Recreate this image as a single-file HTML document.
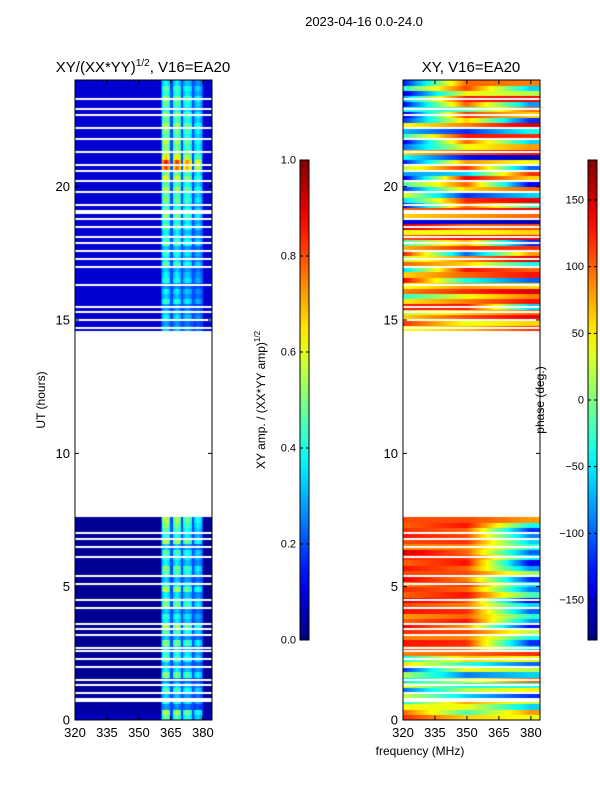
<!DOCTYPE html>
<html><head><meta charset="utf-8"><style>
body{margin:0;background:#fff;width:600px;height:800px;position:relative;overflow:hidden;font-family:"Liberation Sans",sans-serif}
canvas,svg{position:absolute;left:0;top:0}
</style></head><body>
<canvas id="cv" width="600" height="800"></canvas>
<svg id="sv" width="600" height="800"></svg>
<script>
// ---- data ----
const nRows = 120; // 0.2 h per row
const freqStart = 320, freqEnd = 384, freqStep = 0.5;
const blankStart = 38, blankEnd = 72; // rows with no data (7.6 - 14.6 h)
const whiteLines = [23.3,22.9,22.7,22.2,21.8,21.3,20.8,20.6,20.2,19.8,19.3,19.1,19.0,18.8,18.5,18.1,17.9,17.6,17.3,17.0,16.3,15.5,15.3,15.0,14.7,7.0,6.8,6.5,6.1,5.4,5.1,4.5,4.2,3.6,3.4,3.2,2.7,2.6,2.3,2.0,1.5,1.3,1.0,0.8,0.7];
const ampRows = [0.5,0.6,0.3,0.45,0.35,0.5,0.4,0.3,0.55,0.4,0.35,0.5,0.45,0.4,0.55,0.35,0.5,0.6,0.4,0.45,0.35,0.55,0.5,0.4,0.6,0.45,0.35,0.5,0.55,0.4,0.45,0.5,0.35,0.6,0.45,0.5,0.55,0.6,
0,0,0,0,0,0,0,0,0,0,0,0,0,0,0,0,0,0,0,0,0,0,0,0,0,0,0,0,0,0,0,0,0,0,0,
0.35,0.3,0.4,0.35,0.3,0.45,0.35,0.4,0.3,0.45,0.4,0.35,0.5,0.4,0.45,0.35,0.5,0.45,0.4,0.5,0.45,0.55,0.5,0.45,0.55,0.5,0.6,0.5,0.65,0.55,0.85,0.9,0.7,0.6,0.55,0.6,0.5,0.55,0.6,0.5,0.55,0.45,0.5,0.55,0.45,0.5,0.4,0.45];
const bgRows = [0.06,0.04,0.04,0.03,0.03,0.02,0.02,0.02,0.02,0.02,0.02,0.02,0.02,0.02,0.02,0.02,0.02,0.02,0.02,0.02,0.02,0.02,0.02,0.02,0.02,0.02,0.02,0.02,0.02,0.02,0.02,0.02,0.02,0.02,0.02,0.02,0.02,0.02];
const bandCenters = [363, 368, 373, 378];
const bandWeights = [1.0, 0.95, 0.85, 0.7];
const bgAmpUpper = 0.08;
const phase320 = [120,100,40,-40,30,-100,40,-60,20,-120,60,-40,90,
110,130,90,120,140,100,80,130,110,150,100,120,90,140,110,130,100,120,150,90,110,130,120,100,110,
null,null,null,null,null,null,null,null,null,null,null,null,null,null,null,null,null,null,null,null,null,null,null,null,null,null,null,null,null,null,null,null,null,null,null,
40,120,60,20,130,50,-30,90,40,140,60,-60,100,20,130,70,-20,110,40,150,-140,60,100,
-140,-60,40,-120,-20,-150,-80,20,-130,-40,60,-100,-150,-30,-70,40,-120,-160,-40,-140,-80,-150,-30,-130];
const phase350 = [60,-20,40,80,-60,20,-40,30,-90,40,-30,60,100,
100,120,90,110,80,130,100,120,90,110,130,100,120,90,110,100,130,120,100,90,120,110,100,130,110,
null,null,null,null,null,null,null,null,null,null,null,null,null,null,null,null,null,null,null,null,null,null,null,null,null,null,null,null,null,null,null,null,null,null,null,
70,40,110,60,130,90,40,120,80,-40,100,130,60,90,-100,120,70,140,40,100,-150,80,120,
100,120,-120,60,100,140,-60,120,80,-130,110,40,100,130,-120,90,60,120,-20,100,130,40,110,100];
const phase380 = [40,80,-60,30,-120,50,-40,100,-60,20,-100,40,120,
-60,-120,-40,20,-140,-80,-30,-100,-60,-150,-20,-90,-60,-120,10,-80,-140,-50,-100,-30,-60,-90,-120,-40,80,
null,null,null,null,null,null,null,null,null,null,null,null,null,null,null,null,null,null,null,null,null,null,null,null,null,null,null,null,null,null,null,null,null,null,null,
120,60,140,100,-60,130,90,150,60,-100,130,100,-40,150,80,120,-120,140,60,110,-160,100,140,
-20,140,-60,100,-140,60,120,-100,40,-160,130,80,-60,120,-40,150,-120,60,100,-80,140,20,-60,90];
const yTicks = [0,5,10,15,20];
const xTicks = [320,335,350,365,380];
const ampTicks = [0.0,0.2,0.4,0.6,0.8,1.0];
const phaseTicks = [-150,-100,-50,0,50,100,150];

// ---- geometry ----
const P1 = {x0:75,x1:212}, P2 = {x0:403,x1:540};
const yTop = 80, yBot = 720;
const fx = (p,f) => p.x0 + (f - 320) / (384.3 - 320) * (p.x1 - p.x0);
const fy = h => yBot - h / 24 * (yBot - yTop);
function jet(t){t=Math.max(0,Math.min(1,t));const c=v=>Math.round(255*Math.max(0,Math.min(1,v)));
 return `rgb(${c(1.5-Math.abs(4*t-3))},${c(1.5-Math.abs(4*t-2))},${c(1.5-Math.abs(4*t-1))})`;}
const ctx = document.getElementById('cv').getContext('2d');
function ampAt(r,f){
 let v = r < bgRows.length ? bgRows[r] : bgAmpUpper;
 bandCenters.forEach((c,i)=>{ if (Math.abs(f-c) < 2.1) v = Math.max(v, ampRows[r]*bandWeights[i]*(1-0.25*Math.abs(f-c)/2.1)); else if (Math.abs(f-c)<2.6) v=Math.max(v,0.2);});
 return v;
}
function phaseAt(r,f){
 const a=phase320[r], b=phase350[r], c=phase380[r];
 if (a===null) return null;
 if (f<=350) return a+(b-a)*(f-320)/30;
 if (f<=380) return b+(c-b)*(f-350)/30;
 return c;
}
for (let r=0;r<nRows;r++){
 if (r>=blankStart && r<=blankEnd) continue;
 const yA = Math.floor(fy((r+1)*0.2)), yB = Math.ceil(fy(r*0.2));
 for (let f=freqStart; f<freqEnd; f+=freqStep){
  const a = ampAt(r,f+freqStep/2);
  ctx.fillStyle = jet(a);
  const xa=Math.floor(fx(P1,f)), xb=Math.ceil(fx(P1,f+freqStep));
  ctx.fillRect(xa,yA,Math.min(xb,P1.x1)-xa,yB-yA);
  const p = phaseAt(r,f+freqStep/2);
  ctx.fillStyle = jet((p+180)/360);
  const xc=Math.floor(fx(P2,f)), xd=Math.ceil(fx(P2,f+freqStep));
  ctx.fillRect(xc,yA,Math.min(xd,P2.x1)-xc,yB-yA);
 }
}
ctx.fillStyle='#fff';
whiteLines.forEach(h=>{const y=Math.round(fy(h));ctx.fillRect(P1.x0,y-1,P1.x1-P1.x0,2);ctx.fillRect(P2.x0,y-1,P2.x1-P2.x0,2);});
// colorbars
[ [300,309], [588,597] ].forEach(([x0,x1])=>{
 const g=ctx.createLinearGradient(0,640,0,160);
 for(let i=0;i<=20;i++) g.addColorStop(i/20,jet(i/20));
 ctx.fillStyle=g; ctx.fillRect(x0,160,x1-x0,480);
});

// ---- svg overlay ----
const sv=document.getElementById('sv'); const NS='http://www.w3.org/2000/svg';
function el(tag,attrs,txt){const e=document.createElementNS(NS,tag);for(const k in attrs)e.setAttribute(k,attrs[k]);if(txt!==undefined)e.textContent=txt;sv.appendChild(e);return e;}
[P1,P2].forEach((p,pi)=>{
 const fr=el('rect',{x:p.x0,y:yTop,width:p.x1-p.x0,height:yBot-yTop,fill:'none',stroke:'#000','stroke-width':1});
 
 
 yTicks.forEach(v=>{const y=fy(v);
  const t=el('path',{d:`M${p.x0},${y}h4M${p.x1},${y}h-4`,stroke:'#000'});
  
  
  const l=el('text',{x:p.x0-5,y:y+4.5,'text-anchor':'end','font-size':13},String(v));
  
  
 });
 xTicks.forEach(v=>{const x=fx(p,v);
  const t=el('path',{d:`M${x},${yBot}v-4M${x},${yTop}v4`,stroke:'#000'});
  
  
  const l=el('text',{x:x,y:yBot+17,'text-anchor':'middle','font-size':13},String(v));
  
  
 });
});
function cbar(x0,x1,ticks,toY,name){
 const r=el('rect',{x:x0,y:160,width:x1-x0,height:480,fill:'none',stroke:'#000'});
 
 
 ticks.forEach(v=>{const y=toY(v);
  const t=el('path',{d:`M${x0},${y}h3M${x1},${y}h-3`,stroke:'#000'});
  
  
  const l=el('text',{x:x0-4,y:y+3.5,'text-anchor':'end','font-size':11},String(typeof v==='number'&&name==='amp-colorbar'?v.toFixed(1):v).replace('-','\u2212'));
  
  
 });
}
cbar(300,309,ampTicks,v=>640-v*480,'amp-colorbar');
cbar(588,597,phaseTicks,v=>400-v*480/360,'phase-colorbar');
</script>
<svg width="600" height="800" style="pointer-events:none">
<text x="364" y="26" text-anchor="middle" font-size="13">2023-04-16 0.0-24.0</text>
<text x="143" y="72" text-anchor="middle" font-size="15">XY/(XX*YY)<tspan font-size="10" dy="-6">1/2</tspan><tspan dy="6">, V16=EA20</tspan></text>
<text x="471" y="72" text-anchor="middle" font-size="15">XY, V16=EA20</text>
<text x="420" y="755" text-anchor="middle" font-size="12">frequency (MHz)</text>
<text transform="translate(45,400) rotate(-90)" text-anchor="middle" font-size="12">UT (hours)</text>
<text transform="translate(265,400) rotate(-90)" text-anchor="middle" font-size="12">XY amp. / (XX*YY amp)<tspan font-size="8" dy="-5">1/2</tspan></text>
<text transform="translate(544,400) rotate(-90)" text-anchor="middle" font-size="12">phase (deg.)</text>
</svg>
</body></html>
